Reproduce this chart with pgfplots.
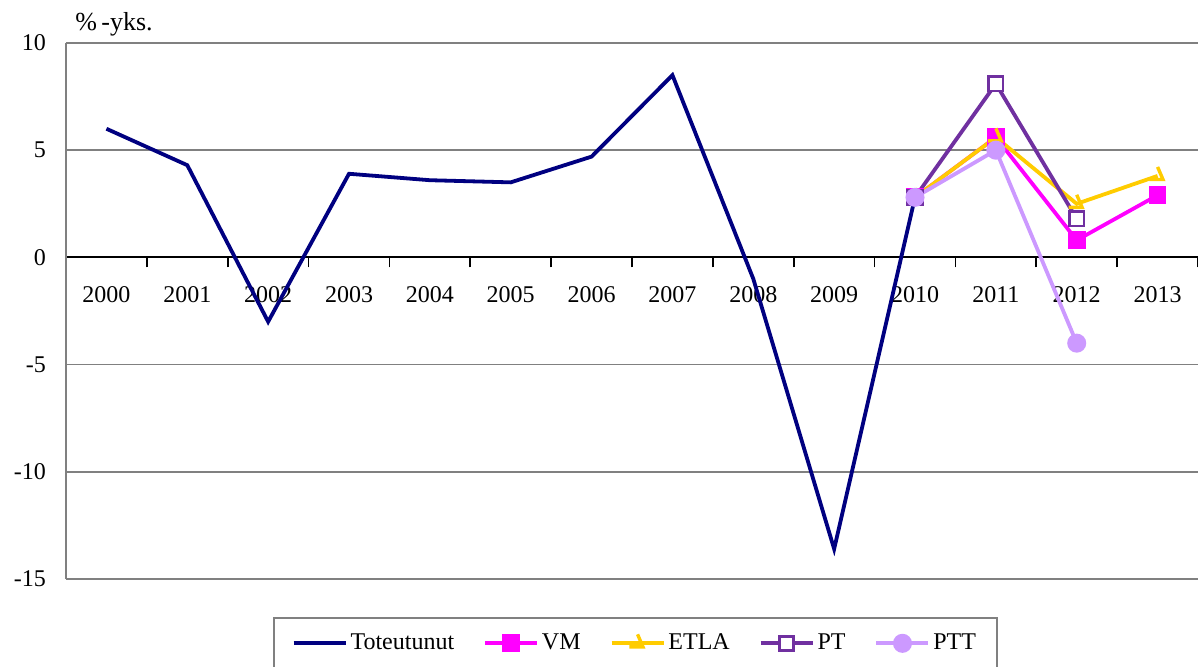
\documentclass[border=0pt]{standalone}
\usepackage{fontspec}
\setmainfont{Liberation Serif}
\usepackage{pgfplots}
\pgfplotsset{compat=1.18}

\definecolor{toteu}{RGB}{0,0,128}
\definecolor{vm}{RGB}{255,0,255}
\definecolor{etla}{RGB}{255,204,0}
\definecolor{pt}{RGB}{112,48,160}
\definecolor{ptt}{RGB}{204,153,255}

% Excel-like dash marker used for ETLA
\pgfdeclareplotmark{etla}{%
  \pgfpathmoveto{\pgfqpoint{0pt}{\pgfplotmarksize}}%
  \pgfpathlineto{\pgfqpoint{0.6\pgfplotmarksize}{-0.4\pgfplotmarksize}}%
  \pgfpathlineto{\pgfqpoint{-0.9\pgfplotmarksize}{-0.4\pgfplotmarksize}}%
  \pgfusepathqstroke}

\begin{document}
\begin{tikzpicture}
\begin{axis}[
  scale only axis,
  width=566pt, height=268pt,
  xmin=-0.5, xmax=13.5,
  ymin=-15, ymax=10,
  axis x line*=middle,
  axis y line*=left,
  x axis line style={black, line width=0.9pt},
  y axis line style={draw=gray, line width=0.9pt},
  xtick={0,...,13},
  xticklabels={2000,2001,2002,2003,2004,2005,2006,2007,2008,2009,2010,2011,2012,2013},
  minor xtick={-0.5,0.5,...,13.5},
  major tick length=0pt,
  minor tick length=5pt,
  tick align=outside,
  minor tick style={black, line width=0.9pt},
  ytick={-15,-10,-5,0,5,10},
  yticklabels={-15,-10,-5,0,5,10},
  ymajorgrids,
  grid style={gray, line width=0.9pt},
  tick label style={font=\fontsize{12}{14}\selectfont},
  xticklabel style={yshift=-11pt},
  yticklabel style={xshift=-6.5pt},
  legend style={
    at={(0.503,-0.0709)}, anchor=north,
    legend columns=5, draw=gray, line width=0.9pt,
    font=\fontsize{12}{14}\selectfont,
    inner ysep=6pt, inner xsep=9pt,
    nodes={inner xsep=1.5pt},
    /tikz/every even column/.append style={column sep=13pt},
  },
  legend image code/.code={%
    \draw[mark repeat=2, mark phase=2, #1] plot coordinates {(0pt,0pt) (13pt,0pt) (26pt,0pt)};},
  every axis plot/.append style={line width=1.9pt},
  clip=false,
]
\addplot[toteu, no marks] coordinates {
  (0,6.0) (1,4.3) (2,-3.0) (3,3.9) (4,3.6) (5,3.5) (6,4.7)
  (7,8.5) (8,-1.0) (9,-13.6) (10,2.8)
};
\addplot[vm, mark=square*, mark size=4.2pt, mark options={solid, fill=vm, line width=0.5pt}] coordinates {
  (10,2.8) (11,5.6) (12,0.8) (13,2.9)
};
\addplot[etla, mark=etla, mark size=4.5pt, mark options={solid, line width=1.7pt}] coordinates {
  (10,2.8) (11,5.6) (12,2.5) (13,3.8)
};
\addplot[pt, mark=square*, mark size=3.6pt, mark options={solid, fill=white, line width=1.4pt}] coordinates {
  (10,2.8) (11,8.1) (12,1.8)
};
\addplot[ptt, mark=*, mark size=3.8pt, mark options={solid, fill=ptt, draw=ptt}] coordinates {
  (10,2.8) (11,5.0) (12,-4.0)
};
\legend{Toteutunut, VM, ETLA, PT, PTT}
\node[anchor=base west, inner sep=0pt, font=\fontsize{13}{15}\selectfont]
  at ([xshift=4.5pt, yshift=6pt]rel axis cs:0,1) {\%\,-yks.};
\coordinate (bbA) at (rel axis cs:0,0);
\coordinate (bbB) at (rel axis cs:1,1);
\end{axis}
\pgfresetboundingbox
\useasboundingbox ([xshift=-33pt, yshift=-44pt]bbA) rectangle ([yshift=21.5pt]bbB);
\end{tikzpicture}
\end{document}
